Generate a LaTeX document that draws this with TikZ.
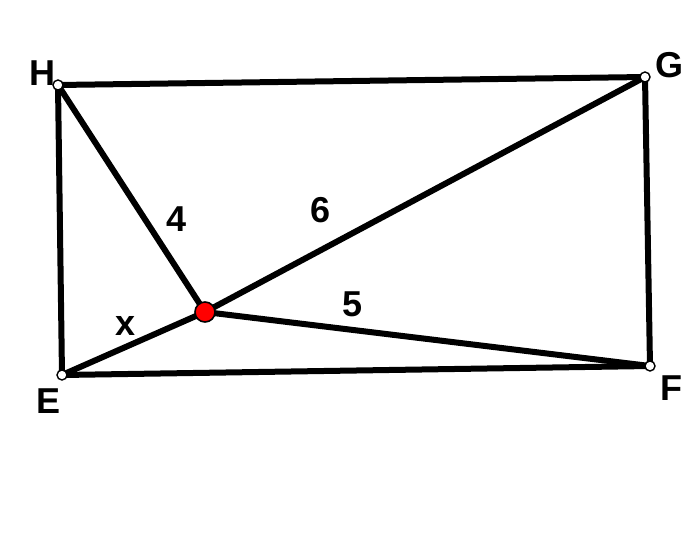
\documentclass[tikz,border=0pt]{standalone}
\usepackage{fontspec}
\setmainfont{Liberation Sans}
\begin{document}
\begin{tikzpicture}[x=1pt,y=-1pt,
  seg/.style={line width=6pt,line cap=round,line join=round},
  vtx/.style={circle,draw=black,fill=white,line width=1.4pt,minimum size=10pt,inner sep=0pt},
  redpt/.style={circle,draw=black,fill=red,line width=1.6pt,minimum size=20pt,inner sep=0pt},
  lbl/.style={inner sep=0pt,font=\fontsize{36}{42}\selectfont\bfseries}]
\useasboundingbox (0,0) rectangle (700,538);
\coordinate (H) at (58,85);
\coordinate (G) at (645,77);
\coordinate (F) at (650,366);
\coordinate (E) at (62,375);
\coordinate (P) at (205,312);
\draw[seg] (H) -- (G) -- (F) -- (E) -- cycle;
\draw[seg] (H) -- (P) -- (F);
\draw[seg] (E) -- (P) -- (G);
\node[vtx] (h) at (H) {};
\node[vtx] (g) at (G) {};
\node[vtx] (f) at (F) {};
\node[vtx] (e) at (E) {};
\node[redpt] (p) at (P) {};
\node[lbl] (lH) at (42,73.5) {H};
\node[lbl] (lG) at (669,65) {G};
\node[lbl] (lF) at (671,388) {F};
\node[lbl] (lE) at (49,401) {E};
\node[lbl] (l4) at (177,219) {4};
\node[lbl] (l6) at (321,210) {6};
\node[lbl] (l5) at (353,304) {5};
\node[lbl] (lx) at (126,326) {x};
\end{tikzpicture}
\end{document}
